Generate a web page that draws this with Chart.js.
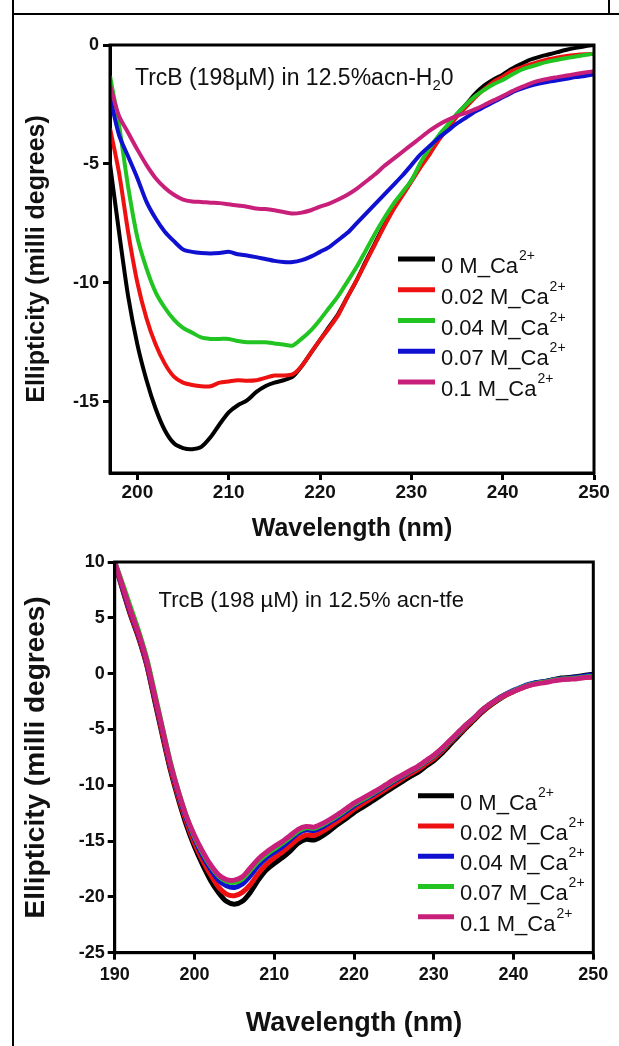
<!DOCTYPE html>
<html>
<head>
<meta charset="utf-8">
<script src="https://cdn.jsdelivr.net/npm/chart.js@4.4.1/dist/chart.umd.min.js"></script>
<style>
  html, body { margin: 0; padding: 0; background: #fff; }
  body { width: 619px; height: 1046px; position: relative; overflow: hidden; }
  canvas { position: absolute; left: 0; }
  #topChart { top: 0; }
  #bottomChart { top: 540px; }
  .rule { position: absolute; background: #000; }
</style>
</head>
<body>
<div class="rule" style="left:12px; top:0; width:2px; height:1046px"></div>
<div class="rule" style="left:12px; top:13px; width:607px; height:2px"></div>
<div class="rule" style="left:608px; top:0; width:2px; height:14px"></div>
<canvas id="topChart" width="619" height="556"></canvas>
<canvas id="bottomChart" width="619" height="506"></canvas>
<script>
// ---- data: top panel (12.5% acn-H2O) ----
const topWavelength = [197,198,199,200,201,202,203,204,205,206,207,208,209,210,211,212,213,214,215,216,
  217,218,219,220,221,222,223,224,225,226,227,228,229,230,231,232,233,234,235,236,
  237,238,239,240,241,242,243,244,245,246,247,248,249,250];
const topCa0 = [-5.0,-7.9,-10.6,-12.6,-14.1,-15.3,-16.2,-16.75,-16.95,-17.0,-16.9,-16.5,-15.95,-15.45,-15.15,-14.95,
  -14.6,-14.35,-14.2,-14.1,-13.95,-13.5,-12.95,-12.4,-11.85,-11.3,-10.6,-9.9,-9.1,-8.35,-7.6,-6.9,
  -6.3,-5.7,-5.1,-4.5,-3.9,-3.4,-2.9,-2.5,-2.05,-1.7,-1.45,-1.25,-1.0,-0.8,-0.62,-0.5,-0.4,-0.3,
  -0.2,-0.12,-0.05,0];
const topCa002 = [-3.5,-5.4,-7.9,-10.0,-11.5,-12.6,-13.4,-13.95,-14.2,-14.3,-14.35,-14.35,-14.2,-14.15,-14.1,-14.12,
  -14.1,-14.0,-13.9,-13.9,-13.85,-13.5,-12.95,-12.4,-11.9,-11.35,-10.6,-9.9,-9.15,-8.4,-7.65,-6.95,
  -6.35,-5.75,-5.15,-4.6,-4.0,-3.5,-3.0,-2.6,-2.2,-1.85,-1.55,-1.33,-1.1,-0.95,-0.82,-0.7,-0.6,-0.52,
  -0.46,-0.42,-0.39,-0.37];
const topCa004 = [-1.3,-3.4,-6.0,-8.1,-9.4,-10.4,-11.05,-11.55,-11.9,-12.1,-12.3,-12.36,-12.36,-12.36,-12.45,-12.5,
  -12.5,-12.5,-12.55,-12.6,-12.64,-12.35,-12.0,-11.55,-11.05,-10.55,-9.95,-9.34,-8.65,-7.95,-7.3,-6.7,
  -6.2,-5.7,-4.95,-4.35,-3.8,-3.35,-2.9,-2.5,-2.15,-1.88,-1.65,-1.47,-1.25,-1.05,-0.92,-0.8,-0.7,-0.62,
  -0.55,-0.48,-0.42,-0.37];
const topCa007 = [-2.2,-3.8,-4.7,-5.6,-6.6,-7.3,-7.85,-8.25,-8.6,-8.7,-8.75,-8.77,-8.75,-8.7,-8.8,-8.85,
  -8.92,-9.0,-9.08,-9.13,-9.13,-9.05,-8.9,-8.7,-8.5,-8.2,-7.9,-7.5,-7.1,-6.7,-6.3,-5.9,
  -5.5,-5.05,-4.6,-4.25,-3.9,-3.6,-3.3,-3.05,-2.8,-2.6,-2.4,-2.2,-2.0,-1.85,-1.72,-1.62,-1.55,-1.48,
  -1.42,-1.35,-1.3,-1.24];
const topCa01 = [-1.7,-3.0,-3.7,-4.4,-5.05,-5.6,-6.0,-6.3,-6.5,-6.58,-6.6,-6.63,-6.65,-6.7,-6.75,-6.8,
  -6.88,-6.9,-6.95,-7.02,-7.09,-7.05,-6.95,-6.8,-6.67,-6.5,-6.3,-6.05,-5.75,-5.45,-5.1,-4.8,
  -4.5,-4.2,-3.9,-3.6,-3.35,-3.15,-2.98,-2.85,-2.7,-2.52,-2.33,-2.15,-1.95,-1.78,-1.62,-1.5,-1.42,-1.35,
  -1.28,-1.22,-1.16,-1.1];
const topLabels = ['0 M_Ca', '0.02 M_Ca', '0.04 M_Ca', '0.07 M_Ca', '0.1 M_Ca'];
const topColors = ['#000000', '#ee1111', '#22c422', '#1010d0', '#c8207a'];

// ---- data: bottom panel (12.5% acn-tfe) ----
const bottomWavelength = [190,191,192,193,194,195,196,197,198,199,200,201,202,203,204,205,206,207,208,209,
  210,211,212,213,214,215,216,217,218,219,220,221,222,223,224,225,226,227,228,229,
  230,231,232,233,234,235,236,237,238,239,240,241,242,243,244,245,246,247,248,249,250];
const bottomCa0 = [9.9,7.5,5.2,3.2,0.8,-2.4,-5.6,-8.7,-11.3,-13.6,-15.5,-17.1,-18.5,-19.6,-20.4,-20.65,-20.4,-19.6,-18.5,-17.6,
  -17.0,-16.5,-15.9,-15.2,-14.85,-14.9,-14.55,-14.05,-13.5,-13.0,-12.45,-12.0,-11.55,-11.1,-10.6,-10.15,-9.7,-9.25,-8.85,-8.3,
  -7.8,-7.15,-6.4,-5.65,-4.9,-4.2,-3.5,-2.9,-2.4,-1.95,-1.6,-1.25,-1.0,-0.8,-0.7,-0.55,-0.4,-0.35,-0.25,-0.15,-0.05];
const bottomCa002 = [9.9,7.6,5.3,3.3,0.9,-2.2,-5.4,-8.5,-11.1,-13.3,-15.2,-16.7,-18.0,-19.1,-19.75,-19.9,-19.6,-18.9,-17.9,-17.1,
  -16.5,-16.0,-15.4,-14.8,-14.45,-14.5,-14.15,-13.7,-13.2,-12.7,-12.15,-11.7,-11.25,-10.8,-10.35,-9.9,-9.45,-9.0,-8.6,-8.1,
  -7.6,-6.95,-6.2,-5.5,-4.8,-4.1,-3.45,-2.85,-2.35,-1.95,-1.6,-1.3,-1.05,-0.85,-0.75,-0.6,-0.5,-0.45,-0.4,-0.35,-0.3];
const bottomCa004 = [10.0,7.7,5.5,3.5,1.1,-2.0,-5.1,-8.2,-10.8,-13.0,-14.8,-16.3,-17.5,-18.5,-19.0,-19.15,-18.85,-18.1,-17.2,-16.5,
  -16.0,-15.5,-14.9,-14.3,-14.0,-14.05,-13.75,-13.3,-12.85,-12.35,-11.85,-11.4,-11.0,-10.55,-10.1,-9.65,-9.25,-8.8,-8.4,-7.9,
  -7.4,-6.8,-6.1,-5.4,-4.65,-4.0,-3.35,-2.75,-2.25,-1.85,-1.5,-1.2,-0.95,-0.8,-0.7,-0.55,-0.45,-0.4,-0.3,-0.2,-0.1];
const bottomCa007 = [10.0,8.0,5.9,3.8,1.4,-1.7,-4.9,-8.0,-10.6,-12.8,-14.6,-16.0,-17.2,-18.1,-18.6,-18.7,-18.4,-17.6,-16.8,-16.2,
  -15.7,-15.2,-14.65,-14.1,-13.8,-13.85,-13.55,-13.15,-12.7,-12.2,-11.7,-11.3,-10.9,-10.45,-10.0,-9.55,-9.15,-8.75,-8.35,-7.85,
  -7.35,-6.75,-6.05,-5.35,-4.6,-4.0,-3.3,-2.75,-2.3,-1.9,-1.55,-1.25,-1.0,-0.85,-0.75,-0.6,-0.5,-0.45,-0.4,-0.3,-0.25];
const bottomCa01 = [10.0,7.8,5.6,3.6,1.2,-1.9,-5.0,-8.1,-10.6,-12.8,-14.5,-15.9,-17.1,-18.0,-18.45,-18.5,-18.2,-17.4,-16.6,-16.0,
  -15.5,-15.05,-14.5,-13.95,-13.7,-13.75,-13.45,-13.05,-12.6,-12.1,-11.6,-11.2,-10.8,-10.4,-9.95,-9.5,-9.1,-8.7,-8.3,-7.8,
  -7.3,-6.7,-6.0,-5.3,-4.6,-4.0,-3.3,-2.75,-2.3,-1.9,-1.6,-1.3,-1.05,-0.9,-0.8,-0.65,-0.55,-0.5,-0.45,-0.35,-0.3];
const bottomLabels = ['0 M_Ca', '0.02 M_Ca', '0.04 M_Ca', '0.07 M_Ca', '0.1 M_Ca'];
const bottomColors = ['#000000', '#ee1111', '#1010d0', '#22c422', '#c8207a'];

const FONT = "'Liberation Sans', Arial, Helvetica, sans-serif";
Chart.defaults.font.family = FONT;
Chart.defaults.color = '#111';

// frame, sample note and legend drawn inside the plot box
const decorPlugin = {
  id: 'decor',
  afterDatasetsDraw(chart, args, opts) {
    const { ctx, chartArea: a } = chart;
    ctx.save();
    ctx.strokeStyle = '#000';
    ctx.lineWidth = 3;
    ctx.strokeRect(a.left, a.top, a.right - a.left, a.bottom - a.top);

    ctx.fillStyle = '#111';
    ctx.textAlign = 'left';
    ctx.textBaseline = 'alphabetic';
    ctx.font = opts.noteSize + 'px ' + FONT;
    let x = opts.noteX;
    ctx.fillText(opts.note, x, opts.noteY);
    if (opts.noteSub) {
      x += ctx.measureText(opts.note).width;
      ctx.font = '15px ' + FONT;
      ctx.fillText(opts.noteSub, x, opts.noteY + 5);
      x += ctx.measureText(opts.noteSub).width;
      ctx.font = opts.noteSize + 'px ' + FONT;
      ctx.fillText(opts.noteTail, x, opts.noteY);
    }

    chart.data.datasets.forEach((ds, i) => {
      const y = opts.legendY + i * opts.legendGap;
      ctx.strokeStyle = ds.borderColor;
      ctx.lineWidth = 5;
      ctx.beginPath();
      ctx.moveTo(opts.legendX, y);
      ctx.lineTo(opts.legendX + opts.legendLen, y);
      ctx.stroke();
      const tx = opts.legendX + opts.legendLen + 6;
      ctx.font = '22px ' + FONT;
      ctx.fillText(opts.labels[i], tx, y + 14);
      const w = ctx.measureText(opts.labels[i]).width;
      ctx.font = '14px ' + FONT;
      ctx.fillText('2+', tx + w + 1, y + 1);
    });
    ctx.restore();
  }
};

function buildChart(id, cfg) {
  return new Chart(document.getElementById(id), {
    type: 'line',
    data: {
      datasets: cfg.series.map((vals, i) => ({
        label: cfg.labels[i] + '2+',
        data: vals.map((v, j) => ({ x: cfg.wavelength[j], y: v })),
        borderColor: cfg.colors[i],
        borderWidth: cfg.lineWidth,
        pointRadius: 0,
        tension: 0.25,
        fill: false,
        order: cfg.series.length - 1 - i
      }))
    },
    options: {
      responsive: false,
      animation: false,
      devicePixelRatio: 1,
      layout: { padding: cfg.padding },
      plugins: {
        legend: { display: false },
        tooltip: { enabled: false },
        decor: cfg.decor
      },
      scales: {
        x: {
          type: 'linear',
          min: cfg.xMin,
          max: cfg.xMax,
          afterFit: s => { s.height = cfg.xHeight; },
          ticks: { stepSize: 10, includeBounds: false, maxRotation: 0, padding: cfg.xTickPad,
                   font: { size: cfg.xTickSize, weight: 'bold' }, color: '#111' },
          grid: { drawOnChartArea: false, tickLength: 7, tickWidth: 3, tickColor: '#000' },
          border: { color: '#000', width: 3 },
          title: { display: true, text: 'Wavelength (nm)', color: '#111',
                   font: { size: cfg.titleSize, weight: 'bold' }, padding: { top: 0, bottom: cfg.xTitlePad } }
        },
        y: {
          min: cfg.yMin,
          max: cfg.yMax,
          afterFit: s => { s.width = cfg.yWidth; },
          ticks: { stepSize: 5, includeBounds: false, padding: cfg.yTickPad,
                   font: { size: cfg.yTickSize, weight: 'bold' }, color: '#111' },
          grid: { drawOnChartArea: false, tickLength: 7, tickWidth: 3, tickColor: '#000' },
          border: { color: '#000', width: 3 },
          title: { display: true, text: 'Ellipticity (milli degrees)', color: '#111',
                   font: { size: cfg.yTitleSize, weight: 'bold' }, padding: { top: cfg.yTitlePad, bottom: 0 } }
        }
      }
    },
    plugins: [decorPlugin]
  });
}

buildChart('topChart', {
  wavelength: topWavelength,
  series: [topCa0, topCa002, topCa004, topCa007, topCa01],
  labels: topLabels,
  colors: topColors,
  lineWidth: 4,
  xMin: 197, xMax: 250, yMin: -18, yMax: 0,
  padding: { top: 45, right: 25, bottom: 0, left: 0 },
  xHeight: 83, yWidth: 110,
  xTickSize: 19, yTickSize: 18, xTickPad: 1, yTickPad: 4,
  titleSize: 25, yTitleSize: 25, xTitlePad: 12, yTitlePad: 22,
  decor: {
    note: 'TrcB (198\u00b5M) in 12.5%acn-H', noteSub: '2', noteTail: '0',
    noteX: 135, noteY: 85, noteSize: 23,
    labels: topLabels,
    legendX: 398, legendLen: 37, legendY: 259, legendGap: 30.75
  }
});

buildChart('bottomChart', {
  wavelength: bottomWavelength,
  series: [bottomCa0, bottomCa002, bottomCa004, bottomCa007, bottomCa01],
  labels: bottomLabels,
  colors: bottomColors,
  lineWidth: 5,
  xMin: 190, xMax: 250, yMin: -25, yMax: 10,
  padding: { top: 22, right: 25.7, bottom: 0, left: 0 },
  xHeight: 93.3, yWidth: 114.7,
  xTickSize: 18, yTickSize: 18, xTickPad: 5, yTickPad: 3,
  titleSize: 27, yTitleSize: 28, xTitlePad: 6.4, yTitlePad: 19,
  decor: {
    note: 'TrcB (198 \u00b5M) in 12.5% acn-tfe',
    noteX: 158.6, noteY: 67, noteSize: 22,
    labels: bottomLabels,
    legendX: 418, legendLen: 36, legendY: 255.7, legendGap: 30.25
  }
});
</script>
</body>
</html>
